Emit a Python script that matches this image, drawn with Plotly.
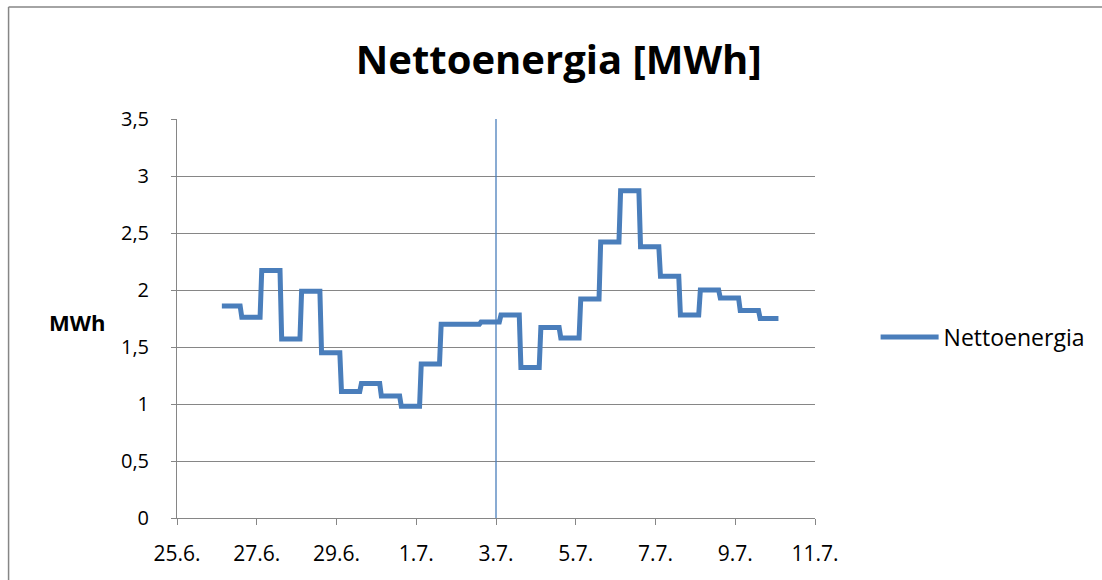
import pandas as pd
import plotly.graph_objects as go

# ---- data ----
series_name = "Nettoenergia"
start_time = "2015-06-26 03:00"          # first half-day step
step_hours = 12                          # each value covers half a day
plateau_hours = 11
values = [1.86, 1.76, 2.17, 1.57, 1.99, 1.45, 1.11, 1.18, 1.07, 0.98,
          1.35, 1.70, 1.70, 1.72, 1.78, 1.32, 1.67, 1.58, 1.92, 2.42,
          2.87, 2.38, 2.12, 1.78, 2.00, 1.93, 1.82, 1.75]
x_range = ["2015-06-25", "2015-07-11"]
marker_date = "2015-07-03"
y_ticks = [0, 0.5, 1, 1.5, 2, 2.5, 3, 3.5]

# build step-line points from the values
starts = pd.date_range(start_time, periods=len(values), freq=f"{step_hours}h")
xs, ys = [], []
for t, v in zip(starts, values):
    xs += [t, t + pd.Timedelta(hours=plateau_hours)]
    ys += [v, v]

BLUE = "#4a7ebb"
GREY = "#868686"
FONT = "Open Sans"

fig = go.Figure()
fig.add_trace(go.Scatter(x=xs, y=ys, mode="lines", name=series_name,
                         line=dict(color=BLUE, width=5)))

fig.add_shape(type="line", xref="x", yref="paper", x0=marker_date, x1=marker_date,
              y0=0, y1=1, line=dict(color=BLUE, width=1.3), layer="above")

# outer chart border (only left and top edges are visible in the crop)
fig.add_shape(type="line", xref="paper", yref="paper",
              x0=-0.264, x1=-0.264, y0=-0.5, y1=1.2807,
              line=dict(color=GREY, width=1.5), layer="below")
fig.add_shape(type="line", xref="paper", yref="paper",
              x0=-0.264, x1=1.5, y0=1.2807, y1=1.2807,
              line=dict(color=GREY, width=1.5), layer="below")

fig.add_annotation(text="<b>MWh</b>", xref="paper", yref="paper",
                   x=-0.156, y=0.491, xanchor="center", yanchor="middle",
                   showarrow=False, font=dict(family=FONT, size=22, color="black"))

fig.update_layout(
    width=1102, height=580,
    margin=dict(l=177, r=285, t=119, b=62),
    paper_bgcolor="white", plot_bgcolor="white",
    separators=", ",
    title=dict(text="<b>Nettoenergia [MWh]</b>", x=0.507, xanchor="center",
               y=0.897, yanchor="middle",
               font=dict(family=FONT, size=40, color="black")),
    showlegend=True,
    legend=dict(x=1.095, xanchor="left", y=0.4536, yanchor="middle",
                font=dict(family=FONT, size=23, color="black"),
                bgcolor="rgba(0,0,0,0)", itemwidth=58),
    font=dict(family=FONT, color="black"),
)

fig.update_xaxes(type="date", range=x_range, tick0=x_range[0], dtick=2 * 86400000,
                 tickformat="%-d.%-m.", showgrid=False, showline=True,
                 linecolor=GREY, linewidth=1, ticks="outside", ticklen=6,
                 tickcolor=GREY, tickfont=dict(family=FONT, size=21, color="black"),
                 ticklabelstandoff=11, zeroline=False)
fig.update_yaxes(range=[0, 3.5], tickvals=y_ticks, showgrid=True, gridcolor=GREY,
                 gridwidth=1, showline=True, linecolor=GREY, linewidth=1,
                 ticks="outside", ticklen=5, tickcolor=GREY,
                 tickfont=dict(family=FONT, size=20, color="black"),
                 ticklabelstandoff=18, zeroline=False)

fig.write_html("out.html", config={"displayModeBar": False},
               post_script=("document.body.style.margin='0px';"
                            "document.body.style.overflow='hidden';"
                            "document.documentElement.style.overflow='hidden';"))
